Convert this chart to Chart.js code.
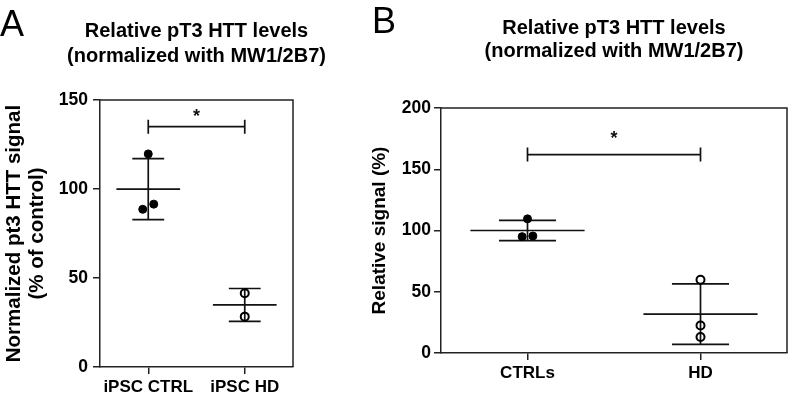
<!DOCTYPE html>
<html>
<head>
<meta charset="utf-8">
<script src="https://cdn.jsdelivr.net/npm/chart.js@4"></script>
<style>
  body { margin: 0; background: #fff; font-family: "Liberation Sans", Arial, sans-serif; }
  #wrap { position: relative; width: 793px; height: 400px; }
  .panel { position: absolute; top: 0; height: 400px; }
  .letter { position: absolute; font-size: 36px; line-height: 1; color: #000; }
</style>
</head>
<body>
<div id="wrap">
  <div class="panel" style="left:0;width:360px"><canvas id="chartA"></canvas></div>
  <div class="panel" style="left:360px;width:433px"><canvas id="chartB"></canvas></div>
  <div class="letter" style="left:0;top:6px">A</div>
  <div class="letter" style="left:372px;top:3px">B</div>
</div>
<script>
// Panel A data
var catsA = ["iPSC CTRL", "iPSC HD"];
var ctrlA = [119.7, 88.6, 91.5];
var hdA = [41.4, 28.3];
var ticksA = [0, 50, 100, 150];
var sigA = 135;

// Panel B data
var catsB = ["CTRLs", "HD"];
var ctrlB = [109.5, 95.0, 95.5];
var hdB = [59.8, 22.5, 13.0];
var ticksB = [0, 50, 100, 150, 200];
var sigB = 162;

var titleText = ["Relative pT3 HTT levels", "(normalized with MW1/2B7)"];
var FONT = "'Liberation Sans', Arial, sans-serif";
var AXIS = "#222";

function mean(a) { return a.reduce(function (s, v) { return s + v; }, 0) / a.length; }
function sd(a) {
  var m = mean(a);
  return Math.sqrt(a.reduce(function (s, v) { return s + (v - m) * (v - m); }, 0) / (a.length - 1));
}

// mean +/- SD bars, frame, title and significance bracket
function statsPlugin(groups, sig, st) {
  return {
    id: "stats",
    beforeDatasetsDraw: function (chart) {
      var x = chart.scales.x, y = chart.scales.y, ctx = chart.ctx;
      function seg(x1, y1, x2, y2) {
        ctx.beginPath();
        ctx.moveTo(x.getPixelForValue(x1), y.getPixelForValue(y1));
        ctx.lineTo(x.getPixelForValue(x2), y.getPixelForValue(y2));
        ctx.stroke();
      }
      ctx.save();
      ctx.strokeStyle = "#111";
      ctx.lineWidth = 1.7;
      groups.forEach(function (g, i) {
        var m = mean(g), s = sd(g);
        seg(i - 0.33, m, i + 0.33, m);
        seg(i, m - s, i, m + s);
        seg(i - 0.165, m + s, i + 0.165, m + s);
        seg(i - 0.165, m - s, i + 0.165, m - s);
      });
      ctx.restore();
    },
    afterDraw: function (chart) {
      var a = chart.chartArea, ctx = chart.ctx, x = chart.scales.x, y = chart.scales.y;
      ctx.save();
      ctx.strokeStyle = AXIS;
      ctx.lineWidth = 1.5;
      ctx.beginPath();
      ctx.moveTo(a.left, a.top);
      ctx.lineTo(a.right, a.top);
      ctx.lineTo(a.right, a.bottom);
      ctx.stroke();

      // chart title, centred over the plot area
      ctx.fillStyle = "#000";
      ctx.font = "bold 20px " + FONT;
      ctx.textAlign = "center";
      ctx.textBaseline = "middle";
      var cx = (a.left + a.right) / 2;
      titleText.forEach(function (t, i) { ctx.fillText(t, cx, st.titleY + i * st.titleGap); });

      var by = y.getPixelForValue(sig);
      var x0 = x.getPixelForValue(0), x1 = x.getPixelForValue(1);
      ctx.strokeStyle = "#111";
      ctx.lineWidth = 1.7;
      ctx.beginPath();
      ctx.moveTo(x0, by); ctx.lineTo(x1, by);
      ctx.moveTo(x0, by - 7); ctx.lineTo(x0, by + 7);
      ctx.moveTo(x1, by - 7); ctx.lineTo(x1, by + 7);
      ctx.stroke();
      ctx.fillStyle = "#111";
      ctx.font = "bold 18px " + FONT;
      ctx.fillText("*", (x0 + x1) / 2, by - st.starGap);
      ctx.restore();
    }
  };
}

function makeChart(id, cats, groups, jitters, ticks, yTitle, sig, st) {
  var datasets = groups.map(function (g, i) {
    return {
      data: g.map(function (v, j) { return { x: i + jitters[i][j], y: v }; }),
      pointRadius: 4,
      pointHoverRadius: 4,
      pointBorderWidth: i === 0 ? 1 : 2,
      pointBackgroundColor: i === 0 ? "#000" : "rgba(0,0,0,0)",
      pointBorderColor: "#000"
    };
  });
  return new Chart(document.getElementById(id), {
    type: "scatter",
    data: { datasets: datasets },
    plugins: [statsPlugin(groups, sig, st)],
    options: {
      responsive: true,
      maintainAspectRatio: false,
      animation: false,
      layout: { padding: { left: 0, right: st.padRight, top: st.padTop, bottom: 0 } },
      plugins: {
        legend: { display: false },
        tooltip: { enabled: false },
        title: { display: false }
      },
      scales: {
        x: {
          type: "linear",
          min: -0.5,
          max: 1.5,
          afterBuildTicks: function (s) { s.ticks = cats.map(function (c, i) { return { value: i }; }); },
          afterFit: function (s) { s.height = st.xHeight; },
          ticks: {
            color: "#000",
            padding: 3,
            font: { family: FONT, size: 17, weight: "bold" },
            callback: function (v) { return cats[Math.round(v)]; }
          },
          grid: { display: true, drawOnChartArea: false, drawTicks: true, tickLength: 7, color: AXIS, lineWidth: 1.5 },
          border: { display: true, color: AXIS, width: 1.5 }
        },
        y: {
          min: ticks[0],
          max: ticks[ticks.length - 1],
          afterBuildTicks: function (s) { s.ticks = ticks.map(function (v) { return { value: v }; }); },
          afterFit: function (s) { s.width = st.yWidth; },
          ticks: { color: "#000", padding: st.yPad, font: { family: FONT, size: 17.5, weight: "bold" } },
          grid: { display: true, drawOnChartArea: false, drawTicks: true, tickLength: 7, color: AXIS, lineWidth: 1.5 },
          border: { display: true, color: AXIS, width: 1.5 },
          title: {
            display: true,
            text: yTitle,
            color: "#000",
            font: { family: FONT, size: st.yTitleSize, weight: "bold", lineHeight: 1.12 },
            padding: { top: st.yTitlePad, bottom: 0 }
          }
        }
      }
    }
  });
}

makeChart("chartA", catsA, [ctrlA, hdA], [[0, -0.057, 0.057], [0, 0]], ticksA,
  ["Normalized pt3 HTT signal", "(% of control)"], sigA,
  { padRight: 67, padTop: 100, titleY: 31, titleGap: 25, xHeight: 33, yWidth: 100, yPad: 5,
    yTitleSize: 20.5, yTitlePad: 3, starGap: 10 });

makeChart("chartB", catsB, [ctrlB, hdB], [[0, -0.031, 0.031], [0, 0, 0]], ticksB,
  "Relative signal (%)", sigB,
  { padRight: 2, padTop: 108, titleY: 28, titleGap: 23, xHeight: 47, yWidth: 81, yPad: 3,
    yTitleSize: 19, yTitlePad: 9, starGap: 16 });
</script>
</body>
</html>
